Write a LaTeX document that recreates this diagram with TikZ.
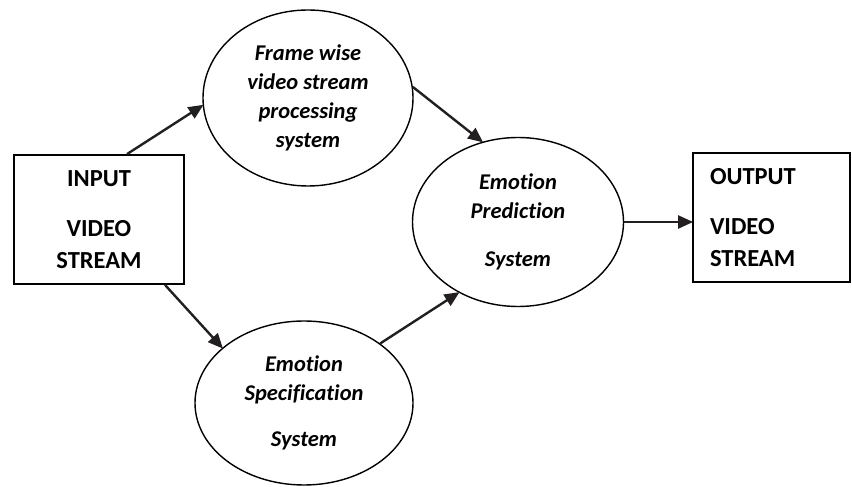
\documentclass[tikz,border=0pt]{standalone}
\usepackage{fontspec}
\setmainfont{Carlito}[Ligatures={NoCommon}]
\usetikzlibrary{shapes.geometric,arrows.meta}
\tikzset{
  boxnode/.style={draw, line width=1.8pt, rectangle, inner sep=0pt,
    font=\bfseries\fontsize{24.5}{32}\selectfont},
  ellnode/.style={draw, line width=1.4pt, ellipse, inner sep=0pt,
    align=center, font=\bfseries\itshape\fontsize{22.5}{29}\selectfont},
  flow/.style={line width=2.4pt, draw={rgb,255:red,35;green,31;blue,32},
    -{Triangle[length=15pt,width=13pt]}, shorten >=-1pt}
}
\begin{document}
\begin{tikzpicture}[x=1pt,y=1pt]
\useasboundingbox (0,0) rectangle (852,487);
\node[boxnode, minimum width=170, minimum height=129, align=center] (in) at (99,267.5)
  {INPUT\\[18pt]VIDEO\\STREAM};
\node[ellnode, minimum width=210, minimum height=176] (top) at (308,389)
  {Frame wise\\video stream\\processing\\system};
\node[ellnode, minimum width=211, minimum height=169] (mid) at (518,265)
  {Emotion\\Prediction\\[19pt]System};
\node[ellnode, minimum width=218, minimum height=164] (bot) at (304,84)
  {Emotion\\Specification\\[17pt]System};
\node[boxnode, minimum width=157, minimum height=129, text width=123,
  inner xsep=17, align=left] (out) at (771.5,269.5)
  {OUTPUT\\[18pt]VIDEO\\STREAM};
\draw[flow] ([xshift=28]in.north) -- (top.184);
\draw[flow] ([xshift=66]in.south) -- (bot.146.5);
\draw[flow] (top.6) -- (mid.114.5);
\draw[flow] (bot.38) -- (mid.230);
\draw[flow] (mid.east) -- (mid.east -| out.west);
\end{tikzpicture}
\end{document}
